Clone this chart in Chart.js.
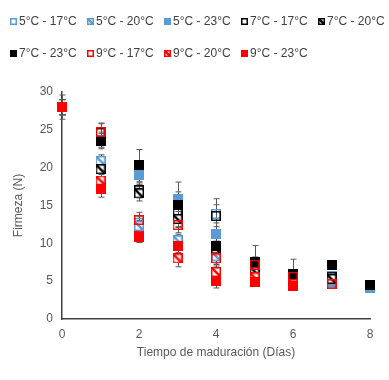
<!DOCTYPE html>
<html>
<head>
<meta charset="utf-8">
<script src="https://cdn.jsdelivr.net/npm/chart.js@4.4.1/dist/chart.umd.min.js"></script>
<style>
 html, body { margin: 0; padding: 0; background: #fff; }
 #wrap { position: relative; width: 389px; height: 380px; }
 #legend {
  position: absolute; left: 10px; top: 14px;
  display: grid; grid-template-columns: repeat(5, 77px); row-gap: 18px;
  font: 12px "Liberation Sans", Arial, sans-serif; color: #404040;
 }
 .item { display: flex; align-items: center; height: 14px; white-space: nowrap; }
 .item canvas { margin-right: 2px; }
</style>
</head>
<body>
<div id="wrap">
 <canvas id="firmeza-chart" width="389" height="380"></canvas>
 <div id="legend"></div>
</div>
<script>
var days = [0, 1, 2, 3, 4, 5, 6, 7, 8];

var seriesLabels = [
 "5°C - 17°C", "5°C - 20°C", "5°C - 23°C",
 "7°C - 17°C", "7°C - 20°C", "7°C - 23°C",
 "9°C - 17°C", "9°C - 20°C", "9°C - 23°C",
];

// mean firmness (N) per day
var s5_17 = [28, 20.6, 12.7, 14.1, 13.9, 6.6, 5.2, 5.7, null];
var s5_20 = [28, 20.9, 12.3, 10.4, 8.3, 6.0, 5.0, 5.4, null];
var s5_23 = [28, 23.7, 19.0, 15.8, 11.2, 5.6, 5.4, 4.6, 4.1];
var s7_17 = [28, 24.6, 17.0, 14.3, 13.6, 6.9, 5.6, 5.6, null];
var s7_20 = [28, 19.8, 16.6, 13.2, 9.3, 6.3, 5.2, 5.3, null];
var s7_23 = [28, 23.5, 20.3, 15.1, 9.6, 7.5, 5.9, 7.1, 4.5];
var s9_17 = [28, 24.7, 13.1, 12.4, 8.0, 7.2, 5.6, 4.6, null];
var s9_20 = [28, 18.3, 11.0, 8.0, 6.2, 5.5, 4.6, null, null];
var s9_23 = [28, 17.2, 10.8, 9.6, 5.0, 4.9, 4.3, null, null];

// standard deviation per day
var e5_17 = [1.0, 0.9, 0.8, 0.9, 1.2, 0.8, 0.6, 0.5, 0];
var e5_20 = [1.0, 0.8, 0.7, 0.8, 0.9, 0.7, 0.6, 0.5, 0];
var e5_23 = [1.0, 1.0, 1.2, 1.0, 1.0, 0.7, 0.6, 0.5, 0.4];
var e7_17 = [1.0, 1.2, 1.0, 1.2, 2.3, 1.0, 0.8, 0.6, 0];
var e7_20 = [1.0, 1.0, 1.0, 1.0, 1.0, 1.0, 0.8, 0.5, 0];
var e7_23 = [1.0, 1.0, 2.1, 3.0, 1.2, 2.2, 2.0, 0.5, 0.5];
var e9_17 = [1.0, 1.2, 1.0, 1.0, 1.0, 1.0, 0.8, 0.5, 0];
var e9_20 = [1.0, 0.8, 0.8, 1.1, 1.0, 0.8, 0.6, 0, 0];
var e9_23 = [1.6, 1.1, 0.7, 0.8, 0.9, 0.6, 0.5, 0, 0];

var seriesValues = [s5_17, s5_20, s5_23, s7_17, s7_20, s7_23, s9_17, s9_20, s9_23];
var seriesErrors = [e5_17, e5_20, e5_23, e7_17, e7_20, e7_23, e9_17, e9_20, e9_23];

var blue = "#5B9BD5";
var black = "#000000";
var red = "#FF0000";
var seriesColors = [blue, blue, blue, black, black, black, red, red, red];
var seriesStyles = ["hollow", "hatched", "filled", "hollow", "hatched", "filled", "hollow", "hatched", "filled"];

var axisColor = "#404040";
var textColor = "#595959";

function makeMarker(style, color, size, whiteBg) {
 var c = document.createElement("canvas");
 c.width = size;
 c.height = size;
 var g = c.getContext("2d");
 var lw = 1.5;
 if (style === "filled") {
  g.fillStyle = color;
  g.fillRect(0, 0, size, size);
  return c;
 }
 if (style === "hatched" || whiteBg) {
  g.fillStyle = "#fff";
  g.fillRect(0, 0, size, size);
 }
 if (style === "hatched") {
  g.strokeStyle = color;
  g.lineWidth = 2.4;
  g.beginPath();
  g.moveTo(0, 0);
  g.lineTo(size, size);
  g.stroke();
 }
 g.strokeStyle = color;
 g.lineWidth = lw;
 g.strokeRect(lw / 2, lw / 2, size - lw, size - lw);
 return c;
}

var datasets = seriesLabels.map(function (label, i) {
 var pts = [];
 days.forEach(function (d, j) {
  if (seriesValues[i][j] !== null) {
   pts.push({ x: d, y: seriesValues[i][j], err: seriesErrors[i][j] });
  }
 });
 return {
  label: label,
  data: pts,
  pointStyle: makeMarker(seriesStyles[i], seriesColors[i], 10, false),
  showLine: false,
  clip: false,
  order: seriesLabels.length - i, // later series on top, like the original
 };
});

// error bars drawn under the markers
var errorBarPlugin = {
 id: "errorBars",
 beforeDatasetsDraw: function (chart) {
  var ctx = chart.ctx;
  var xs = chart.scales.x;
  var ys = chart.scales.y;
  ctx.save();
  ctx.strokeStyle = "#595959";
  ctx.lineWidth = 1;
  chart.data.datasets.forEach(function (ds) {
   ds.data.forEach(function (p) {
    if (!p.err) return;
    var px = Math.round(xs.getPixelForValue(p.x)) + 0.5;
    var top = ys.getPixelForValue(p.y + p.err);
    var bot = ys.getPixelForValue(p.y - p.err);
    ctx.beginPath();
    ctx.moveTo(px, top);
    ctx.lineTo(px, bot);
    ctx.moveTo(px - 3, top);
    ctx.lineTo(px + 3, top);
    ctx.moveTo(px - 3, bot);
    ctx.lineTo(px + 3, bot);
    ctx.stroke();
   });
  });
  ctx.restore();
 },
};

var ctx = document.getElementById("firmeza-chart");

new Chart(ctx, {
 type: "scatter",
 data: { datasets: datasets },
 plugins: [errorBarPlugin],
 options: {
  responsive: false,
  animation: false,
  events: [],
  layout: { padding: { top: 92, right: 19, left: 0, bottom: 0 } },
  plugins: {
   legend: { display: false },
   tooltip: { enabled: false },
  },
  scales: {
   x: {
    type: "linear",
    min: 0,
    max: 8,
    grid: { display: false, drawTicks: false },
    border: { display: true, color: axisColor, width: 1.5 },
    ticks: {
     stepSize: 2,
     padding: 8,
     color: textColor,
     font: { family: "'Liberation Sans', Arial", size: 12 },
    },
    title: {
     display: true,
     text: "Tiempo de maduración (Días)",
     color: textColor,
     font: { family: "'Liberation Sans', Arial", size: 12 },
     padding: { top: 0, bottom: 20 },
    },
    afterFit: function (scale) {
     scale.height = 61;
    },
   },
   y: {
    type: "linear",
    min: 0,
    max: 30,
    grid: { display: false, drawTicks: false },
    border: { display: true, color: axisColor, width: 1.5 },
    ticks: {
     stepSize: 5,
     padding: 9,
     color: textColor,
     font: { family: "'Liberation Sans', Arial", size: 12 },
    },
    title: {
     display: true,
     text: "Firmeza (N)",
     color: textColor,
     font: { family: "'Liberation Sans', Arial", size: 12 },
     padding: { top: 11, bottom: 0 },
    },
    afterFit: function (scale) {
     scale.width = 62;
    },
   },
  },
 },
});

// html legend, two rows like the original
var legendBox = document.getElementById("legend");
seriesLabels.forEach(function (label, i) {
 var item = document.createElement("div");
 item.className = "item";
 item.appendChild(makeMarker(seriesStyles[i], seriesColors[i], 7, true));
 var span = document.createElement("span");
 span.textContent = label;
 item.appendChild(span);
 legendBox.appendChild(item);
});
</script>
</body>
</html>
